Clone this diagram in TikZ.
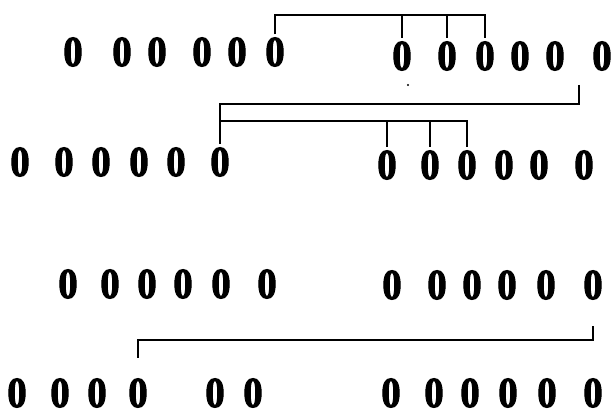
\documentclass[tikz,border=0pt]{standalone}
\usepackage{graphicx,fontspec,tikz}
\newfontfamily\digitfont{Liberation Serif Bold}[FakeBold=2.5]
\tikzstyle{digit}=[inner sep=0pt,outer ysep=3pt,font=\fontsize{43}{43}\selectfont\digitfont]
\tikzstyle{link}=[line width=2.6pt]
\newcommand{\zr}{\scalebox{0.9}[1]{0}}

\begin{document}
\begin{tikzpicture}[x=1pt,y=-1pt]
\useasboundingbox (0,0) rectangle (615,417);
% row 1
\foreach \x [count=\i] in {73,122,157,202,237,275} \node[digit] (r1l\i) at (\x,52) {\zr};
\foreach \x [count=\i] in {402,447,485,520,555,602} \node[digit] (r1r\i) at (\x,56) {\zr};
% row 2
\foreach \x [count=\i] in {20,64,101,139,176,220} \node[digit] (r2l\i) at (\x,162) {\zr};
\foreach \x [count=\i] in {387,430,467,504,539,584} \node[digit] (r2r\i) at (\x,165) {\zr};
% row 3
\foreach \x [count=\i] in {68,110,147,183,221,267} \node[digit] (r3l\i) at (\x,284) {\zr};
\foreach \x [count=\i] in {392,437,472,507,546,593} \node[digit] (r3r\i) at (\x,285) {\zr};
% row 4
\foreach \x [count=\i] in {17,60,97,138,215,253} \node[digit] (r4l\i) at (\x,393) {\zr};
\foreach \x [count=\i] in {391,434,470,508,547,593} \node[digit] (r4r\i) at (\x,393) {\zr};
% bracket levels and free ends
\coordinate (b1) at (0,15);
\coordinate (b2) at (0,104);
\coordinate (b3) at (0,121);
\coordinate (b4) at (0,340);
\coordinate (e2) at (579,85);
\coordinate (e4) at (593,326);
% brackets
\draw[link] (r1l6.north) |- (b1 -| r1r3) -- (r1r3.north);
\foreach \k in {1,2} \draw[link] (b1 -| r1r\k) -- (r1r\k.north);
\draw[link] (e2) |- (b2 -| r2l6) -- (r2l6.north);
\draw[link] (b3 -| r2l6) -| (r2r3.north);
\foreach \k in {1,2} \draw[link] (b3 -| r2r\k) -- (r2r\k.north);
\draw[link,shorten >=17pt] (e4) |- (b4 -| r4l4) -- (r4l4.north);
\fill (408,85) circle (1.2pt);
\end{tikzpicture}
\end{document}
